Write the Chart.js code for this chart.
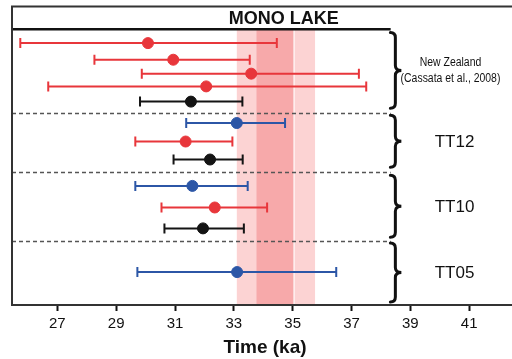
<!DOCTYPE html>
<html>
<head>
<meta charset="utf-8">
<script src="https://cdn.jsdelivr.net/npm/chart.js@4"></script>
<style>
  html, body { margin: 0; padding: 0; background: #fff; }
</style>
</head>
<body>
<canvas id="chart" width="512" height="359"></canvas>
<script>
// ages in ka, one row per sample (top to bottom)
const rowPos = [3.68, 5.35, 6.75, 8.03, 9.56, 11.71, 13.57, 15.38, 18.03, 20.2, 22.3, 26.69];
const ages   = [30.08, 30.94, 33.59, 32.06, 31.54, 33.10, 31.36, 32.19, 31.59, 32.35, 31.95, 33.11];
const lows   = [25.74, 28.26, 29.87, 26.69, 29.81, 31.38, 29.65, 30.95, 29.65, 30.54, 30.64, 29.72];
const highs  = [34.46, 33.54, 37.25, 37.50, 33.29, 34.74, 32.95, 33.30, 33.47, 34.13, 33.34, 36.48];
const kinds  = ['red', 'red', 'red', 'red', 'black', 'blue', 'red', 'black', 'blue', 'red', 'black', 'blue'];

const xTicks = [27, 29, 31, 33, 35, 37, 39, 41];

// groups (row units)
const groupLabels = [['New Zealand', '(Cassata et al., 2008)'], ['TT12'], ['TT10'], ['TT05']];
const groupTop    = [2.61, 10.94, 16.96, 23.78];
const groupBottom = [10.23, 16.15, 23.18, 29.7];
const dividers    = [10.74, 16.66, 23.55];

// Mono Lake age bands
const outerBand = [33.10, 35.76];
const innerBand = [33.77, 35.03];

const colors = { red: '#e8363b', blue: '#2c56a6', black: '#141414' };
const FONT = "'Liberation Sans', Arial, Helvetica, sans-serif";

function pointsOf(kind) {
    const out = [];
    ages.forEach((a, i) => { if (kinds[i] === kind) out.push({ x: a, y: rowPos[i] }); });
    return out;
}

const decorPlugin = {
    id: 'decor',
    beforeDatasetsDraw(chart) {
        const { ctx, chartArea: ca, scales: { x, y } } = chart;
        const headerY = y.getPixelForValue(2.28);
        const lineEnd = x.getPixelForValue(38.33);
        ctx.save();
        // bands
        ctx.fillStyle = '#fcd3d3';
        ctx.fillRect(x.getPixelForValue(outerBand[0]), headerY, x.getPixelForValue(outerBand[1]) - x.getPixelForValue(outerBand[0]), ca.bottom - headerY);
        ctx.fillStyle = '#f7a9aa';
        ctx.fillRect(x.getPixelForValue(innerBand[0]), headerY, x.getPixelForValue(innerBand[1]) - x.getPixelForValue(innerBand[0]), ca.bottom - headerY);
        ctx.fillStyle = '#fff';
        ctx.fillRect(x.getPixelForValue(innerBand[1]), headerY, 1, ca.bottom - headerY);

        // header
        ctx.strokeStyle = '#111';
        ctx.lineWidth = 2.5;
        ctx.beginPath();
        ctx.moveTo(ca.left, headerY);
        ctx.lineTo(lineEnd, headerY);
        ctx.stroke();
        ctx.fillStyle = '#111';
        ctx.font = 'bold 18px ' + FONT;
        ctx.textAlign = 'center';
        ctx.textBaseline = 'alphabetic';
        ctx.fillText('MONO LAKE', x.getPixelForValue(34.7), 24);

        // dashed dividers
        ctx.strokeStyle = '#555';
        ctx.lineWidth = 1.3;
        ctx.setLineDash([4, 3]);
        dividers.forEach(d => {
            const py = Math.round(y.getPixelForValue(d)) + 0.5;
            ctx.beginPath();
            ctx.moveTo(ca.left, py);
            ctx.lineTo(lineEnd, py);
            ctx.stroke();
        });
        ctx.setLineDash([]);

        // error bars
        ctx.lineWidth = 2;
        ages.forEach((a, i) => {
            const py = y.getPixelForValue(rowPos[i]);
            const x0 = x.getPixelForValue(lows[i]);
            const x1 = x.getPixelForValue(highs[i]);
            ctx.strokeStyle = colors[kinds[i]];
            ctx.beginPath();
            ctx.moveTo(x0, py); ctx.lineTo(x1, py);
            ctx.moveTo(x0, py - 5); ctx.lineTo(x0, py + 5);
            ctx.moveTo(x1, py - 5); ctx.lineTo(x1, py + 5);
            ctx.stroke();
        });
        ctx.restore();
    },
    afterDraw(chart) {
        const { ctx, chartArea: ca, scales: { x, y } } = chart;
        ctx.save();
        // frame (left, top, bottom out to the edge)
        ctx.strokeStyle = '#333';
        ctx.lineWidth = 2;
        ctx.beginPath();
        ctx.moveTo(chart.width, ca.bottom);
        ctx.lineTo(ca.left, ca.bottom);
        ctx.lineTo(ca.left, ca.top);
        ctx.lineTo(chart.width, ca.top);
        ctx.stroke();

        // axis title, a bit right of the axis centre as in the figure
        ctx.fillStyle = '#111';
        ctx.font = 'bold 19px ' + FONT;
        ctx.textAlign = 'center';
        ctx.textBaseline = 'alphabetic';
        ctx.fillText('Time (ka)', x.getPixelForValue(34.06), 353);

        // braces
        const bx = x.getPixelForValue(38.32);
        ctx.strokeStyle = '#111';
        ctx.lineWidth = 3;
        ctx.lineCap = 'round';
        groupTop.forEach((t, i) => {
            const top = y.getPixelForValue(t);
            const bot = y.getPixelForValue(groupBottom[i]);
            const mid = (top + bot) / 2;
            const sx = bx + 5, tx = bx + 11, r = 5;
            ctx.beginPath();
            ctx.moveTo(bx, top);
            ctx.quadraticCurveTo(sx, top, sx, top + r);
            ctx.lineTo(sx, mid - r);
            ctx.quadraticCurveTo(sx, mid, tx, mid);
            ctx.quadraticCurveTo(sx, mid, sx, mid + r);
            ctx.lineTo(sx, bot - r);
            ctx.quadraticCurveTo(sx, bot, bx, bot);
            ctx.stroke();

            // labels
            const lx = x.getPixelForValue(40.5);
            ctx.fillStyle = '#111';
            ctx.textAlign = 'center';
            ctx.textBaseline = 'middle';
            const lines = groupLabels[i];
            if (lines.length > 1) {
                ctx.font = '12px ' + FONT;
                lines.forEach((s, k) => {
                    ctx.save();
                    ctx.translate(lx - 4, mid - 8 + k * 16);
                    ctx.scale(0.87, 1);
                    ctx.fillText(s, 0, 0);
                    ctx.restore();
                });
            } else {
                ctx.font = '17px ' + FONT;
                ctx.fillText(lines[0], lx, mid + 1);
            }
        });
        ctx.restore();
    }
};

new Chart(document.getElementById('chart'), {
    type: 'scatter',
    data: {
        datasets: ['red', 'blue', 'black'].map(k => ({
            data: pointsOf(k),
            backgroundColor: colors[k],
            borderColor: colors[k],
            pointRadius: 5.5,
            pointHoverRadius: 5.5
        }))
    },
    options: {
        responsive: false,
        animation: false,
        layout: { padding: { left: 12, top: 6, right: 0, bottom: 0 } },
        plugins: { legend: { display: false }, tooltip: { enabled: false } },
        scales: {
            x: {
                type: 'linear',
                min: 25.458,
                max: 42.234,
                afterBuildTicks(scale) { scale.ticks = xTicks.map(v => ({ value: v })); },
                afterFit(scale) { scale.height = 54; },
                grid: { drawOnChartArea: false, tickLength: 6, tickWidth: 2, tickColor: '#111' },
                border: { color: '#333', width: 2 },
                ticks: { color: '#111', font: { family: FONT, size: 15 }, padding: 4 }
            },
            y: {
                display: false,
                reverse: true,
                min: 0,
                max: 30
            }
        }
    },
    plugins: [decorPlugin]
});
</script>
</body>
</html>
